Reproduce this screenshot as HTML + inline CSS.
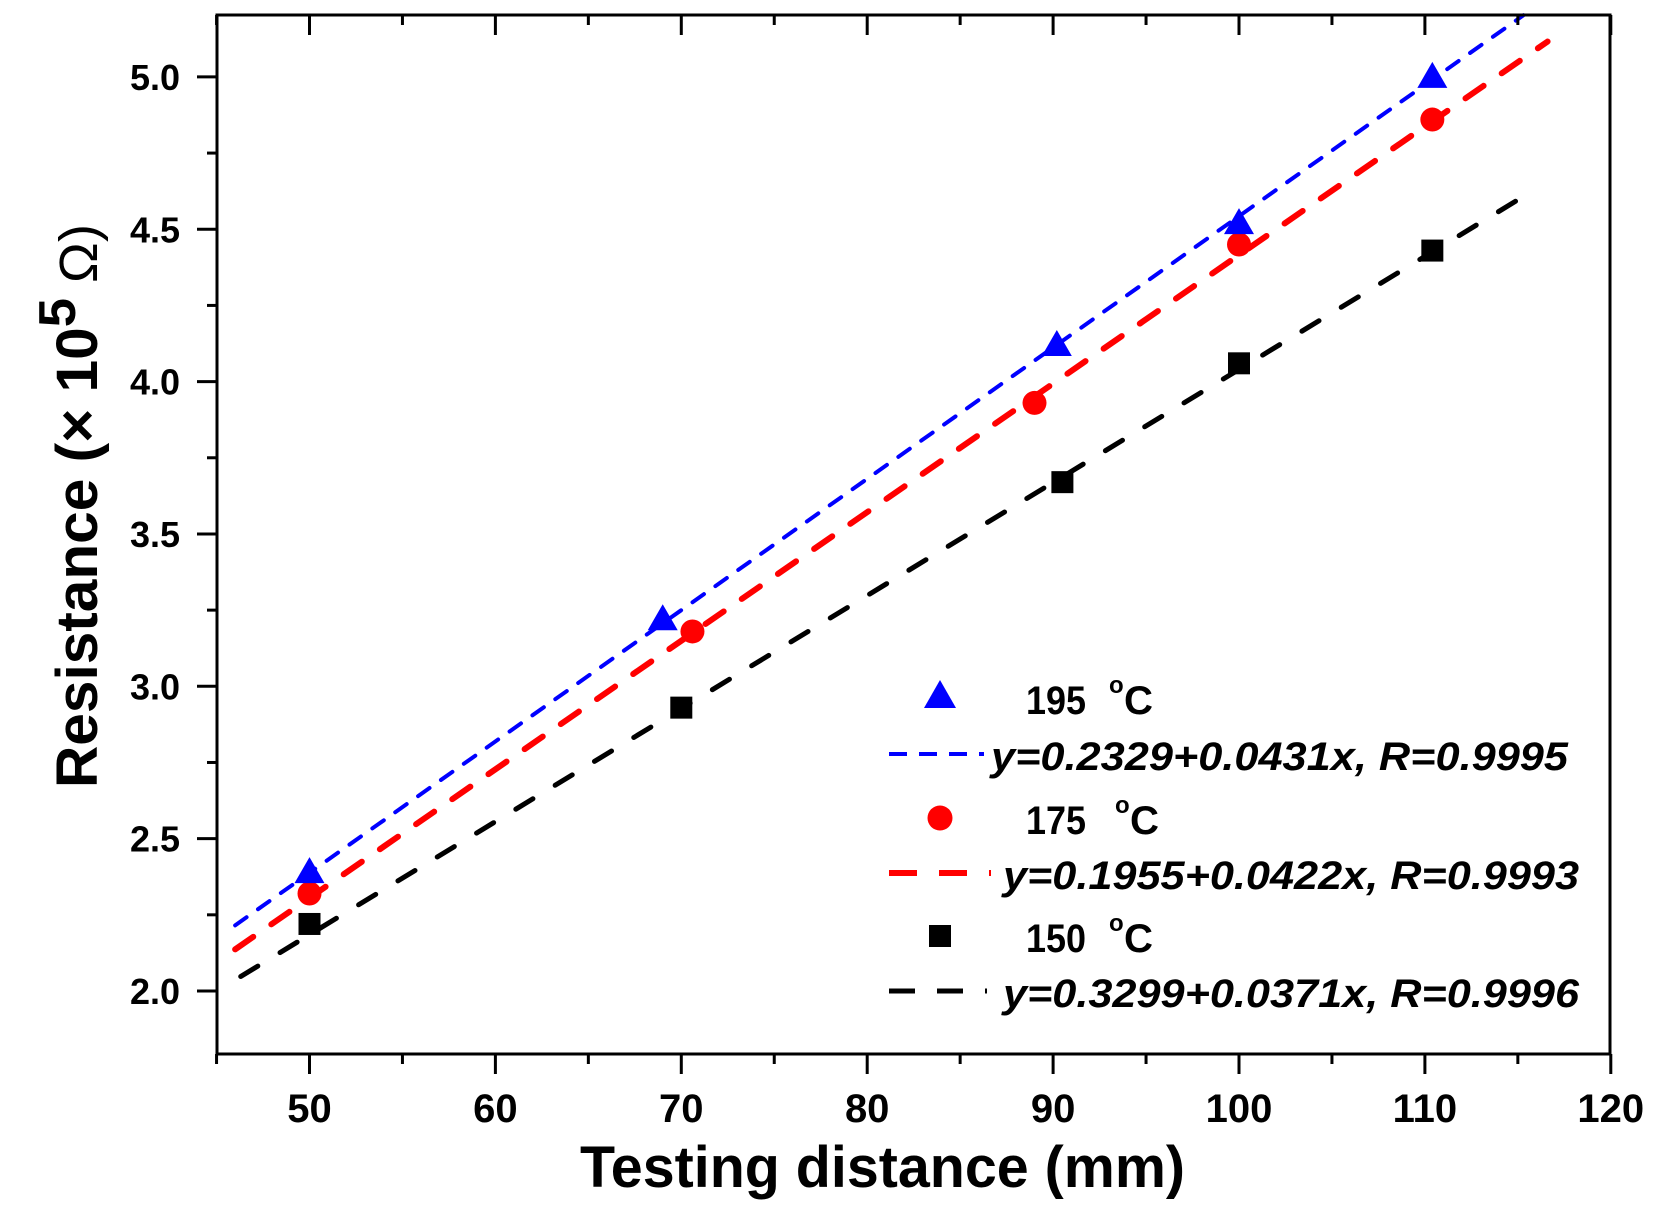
<!DOCTYPE html>
<html><head><meta charset="utf-8"><style>
html,body{margin:0;padding:0;background:#fff;}
svg{display:block;font-family:"Liberation Sans",Arial,sans-serif;}
</style></head><body>
<svg id="chart" width="1659" height="1222" viewBox="0 0 1659 1222" xmlns="http://www.w3.org/2000/svg">
<g id="plot"></g>
<g id="legend">
  <polygon points="940,680 924,708 956,708" fill="#0000ff"/>
  <text x="1026" y="714" font-size="40" font-weight="bold" textLength="60" lengthAdjust="spacingAndGlyphs">195</text>
  <text x="1109" y="693" font-size="24" font-weight="bold">o</text>
  <text x="1124" y="714" font-size="40" font-weight="bold" textLength="29" lengthAdjust="spacingAndGlyphs">C</text>
  <line x1="889" y1="754" x2="984" y2="754" stroke="#0000ff" stroke-width="4" stroke-dasharray="18,12"/>
  <text x="991" y="770" font-size="40" font-weight="bold" font-style="italic" textLength="577" lengthAdjust="spacingAndGlyphs">y=0.2329+0.0431x, R=0.9995</text>
  <circle cx="940" cy="818" r="12.5" fill="#ff0000"/>
  <text x="1026" y="834" font-size="40" font-weight="bold" textLength="60" lengthAdjust="spacingAndGlyphs">175</text>
  <text x="1115" y="813" font-size="24" font-weight="bold">o</text>
  <text x="1130" y="834" font-size="40" font-weight="bold" textLength="29" lengthAdjust="spacingAndGlyphs">C</text>
  <line x1="889" y1="873" x2="992" y2="873" stroke="#ff0000" stroke-width="6" stroke-dasharray="28,22,28,22,2,100"/>
  <text x="1003" y="889" font-size="40" font-weight="bold" font-style="italic" textLength="576" lengthAdjust="spacingAndGlyphs">y=0.1955+0.0422x, R=0.9993</text>
  <rect x="929" y="925" width="22" height="22" fill="#000"/>
  <text x="1026" y="952" font-size="40" font-weight="bold" textLength="60" lengthAdjust="spacingAndGlyphs">150</text>
  <text x="1109" y="931" font-size="24" font-weight="bold">o</text>
  <text x="1124" y="952" font-size="40" font-weight="bold" textLength="29" lengthAdjust="spacingAndGlyphs">C</text>
  <line x1="889" y1="991" x2="992" y2="991" stroke="#000" stroke-width="5" stroke-dasharray="26,22,26,22,2,100"/>
  <text x="1003" y="1007" font-size="40" font-weight="bold" font-style="italic" textLength="576" lengthAdjust="spacingAndGlyphs">y=0.3299+0.0371x, R=0.9996</text>
</g>
<text x="580" y="1187" font-size="58" font-weight="bold" textLength="605" lengthAdjust="spacingAndGlyphs">Testing distance (mm)</text>
<text transform="translate(97,788) rotate(-90)" font-size="58" font-weight="bold" textLength="564" lengthAdjust="spacingAndGlyphs">Resistance (× 10<tspan dy="-22" font-size="52">5</tspan><tspan dy="22" font-weight="normal" font-size="54"> Ω)</tspan></text>
</svg>
<script>
const xMin = 45, xMax = 120, yMin = 1.8, yMax = 5.2;
const xTicks = [50, 60, 70, 80, 90, 100, 110, 120];
const yTicks = [2.0, 2.5, 3.0, 3.5, 4.0, 4.5, 5.0];
const yTickLabels = ["2.0", "2.5", "3.0", "3.5", "4.0", "4.5", "5.0"];
const x195 = [50, 69, 90.2, 100, 110.4];
const y195 = [2.39, 3.22, 4.12, 4.52, 5.0];
const x175 = [50, 70.6, 89, 100, 110.4];
const y175 = [2.32, 3.18, 3.93, 4.45, 4.86];
const x150 = [50, 70, 90.5, 100, 110.4];
const y150 = [2.22, 2.93, 3.67, 4.06, 4.43];
const fit195 = [0.2329, 0.0431];
const fit175 = [0.1955, 0.0422];
const fit150 = [0.3299, 0.0371];
const fitRange195 = [46, 115.3];
const fitRange175 = [46, 116.6];
const fitRange150 = [46.3, 115.8];

const L = 217, R = 1610, T = 15, B = 1054;
function sx(v){ return 309.5 + (v - 50) * 18.59; }
function sy(v){ return 991 - (v - 2.0) * 304.7; }
const NS = "http://www.w3.org/2000/svg";
const g = document.getElementById('plot');
function mk(tag, attrs){ const e = document.createElementNS(NS, tag); for (const k in attrs) e.setAttribute(k, attrs[k]); g.appendChild(e); return e; }

function fitLine(coef, rng, color, w, dash, name){
  const e = mk('line', {x1: sx(rng[0]), y1: sy(coef[0] + coef[1]*rng[0]), x2: sx(rng[1]), y2: sy(coef[0] + coef[1]*rng[1]), stroke: color, 'stroke-width': w, 'stroke-dasharray': dash, 'stroke-linecap': 'round'});
  
  
}
fitLine(fit195, fitRange195, '#0000ff', 4, '14,14', 'fit-line-195');
fitLine(fit175, fitRange175, '#ff0000', 6, '22,22', 'fit-line-175');
fitLine(fit150, fitRange150, '#000', 5, '20,26', 'fit-line-150');

x150.forEach((v, i) => {
  const e = mk('rect', {x: sx(v) - 11, y: sy(y150[i]) - 11, width: 22, height: 22, fill: '#000'});
  
  
});
x175.forEach((v, i) => {
  const e = mk('circle', {cx: sx(v), cy: sy(y175[i]), r: 12, fill: '#ff0000'});
  
  
});
x195.forEach((v, i) => {
  const cx = sx(v), cy = sy(y195[i]);
  const e = mk('polygon', {points: `${cx},${cy-15} ${cx-15},${cy+11} ${cx+15},${cy+11}`, fill: '#0000ff'});
  
  
});

const fr = mk('rect', {x: L, y: T, width: R - L, height: B - T, fill: 'none', stroke: '#000', 'stroke-width': 3});



for (let v = xMin; v <= xMax; v += 5) {
  const major = v % 10 === 0;
  const len = major ? 20 : 10;
  const a = mk('line', {x1: sx(v), y1: B, x2: sx(v), y2: B + len, stroke: '#000', 'stroke-width': 3});
  
  
  const b = mk('line', {x1: sx(v), y1: T, x2: sx(v), y2: T + len, stroke: '#000', 'stroke-width': 3});
  
  
}
xTicks.forEach(v => {
  const t = mk('text', {x: sx(v), y: 1122, 'font-size': 40, 'font-weight': 'bold', 'text-anchor': 'middle'});
  t.textContent = String(v);
  
  
});
for (let v = 2.0; v <= 5.01; v += 0.25) {
  const major = Math.abs(v*2 - Math.round(v*2)) < 1e-6;
  const len = major ? 20 : 10;
  const a = mk('line', {x1: L - len, y1: sy(v), x2: L, y2: sy(v), stroke: '#000', 'stroke-width': 3});
  
  
}
yTicks.forEach((v, i) => {
  const t = mk('text', {x: 180, y: sy(v) + 13, 'font-size': 36, 'font-weight': 'bold', 'text-anchor': 'end'});
  t.textContent = yTickLabels[i];
  
  
});
</script>
</body></html>
